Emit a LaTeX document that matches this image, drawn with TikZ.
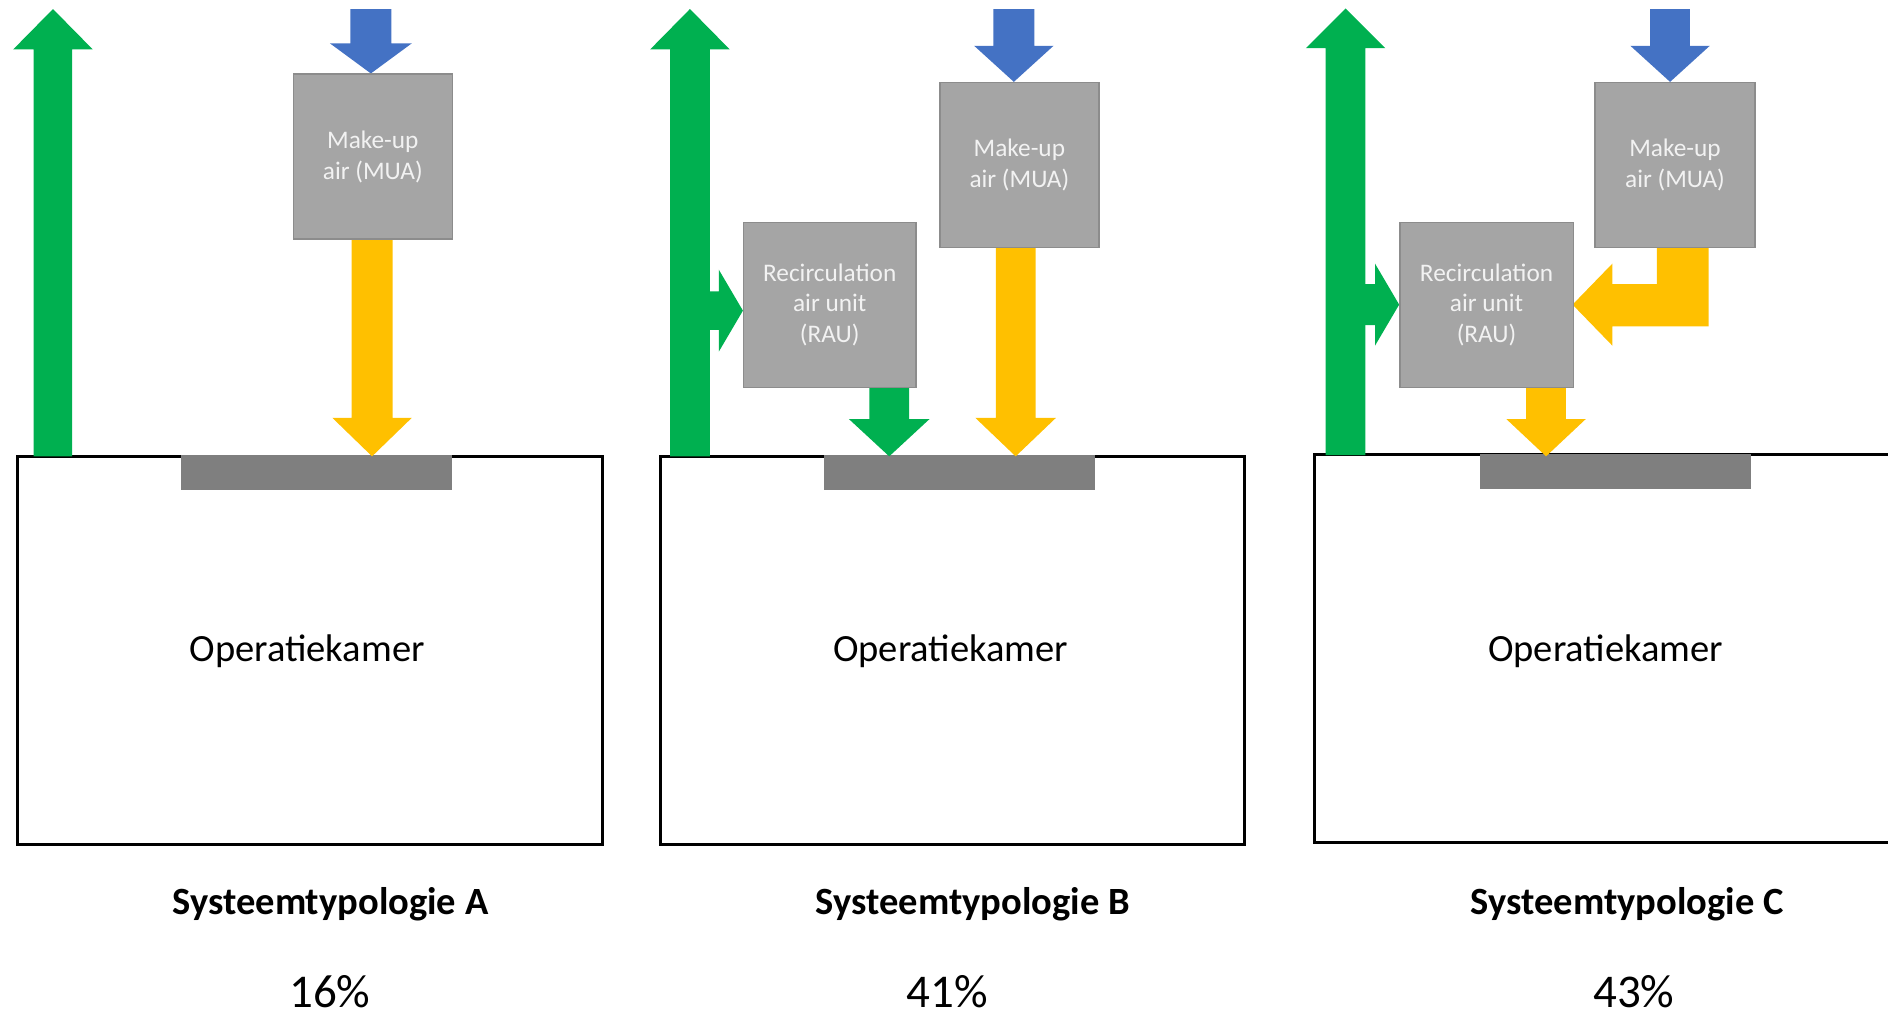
\documentclass[tikz,border=0pt]{standalone}
\usepackage{fontspec}
\setmainfont{Carlito}
\definecolor{grn}{HTML}{00B050}
\definecolor{blu}{HTML}{4472C4}
\definecolor{yel}{HTML}{FFC000}
\definecolor{boxgray}{HTML}{A5A5A5}
\definecolor{boxedge}{HTML}{8C8C8C}
\definecolor{bargray}{HTML}{7F7F7F}
\definecolor{boxtext}{HTML}{F2F2F2}
% vertical block arrow: colour, centre x, tail y, head-base y, tip y, half shaft, half head
\newcommand{\varrow}[7]{\fill[#1] ({#2-#6},#3) -- ({#2+#6},#3) -- ({#2+#6},#4) -- ({#2+#7},#4) -- (#2,#5) -- ({#2-#7},#4) -- ({#2-#6},#4) -- cycle;}
% horizontal block arrow: colour, centre y, tail x, head-base x, tip x, half shaft, half head
\newcommand{\harrow}[7]{\fill[#1] (#3,{#2-#6}) -- (#3,{#2+#6}) -- (#4,{#2+#6}) -- (#4,{#2+#7}) -- (#5,#2) -- (#4,{#2-#7}) -- (#4,{#2-#6}) -- cycle;}
\tikzset{
  unitbox/.style={draw=boxedge, line width=1.2pt, fill=boxgray, text=boxtext,
    font=\fontsize{21}{25.5}\selectfont, align=center, inner sep=0pt},
  roombox/.style={draw=black, line width=2.5pt, inner sep=0pt, anchor=north west},
  ceilbar/.style={fill=bargray, inner sep=0pt, anchor=north west},
  roomlabel/.style={font=\fontsize{32}{38}\selectfont},
  typelabel/.style={font=\bfseries\fontsize{32}{38}\selectfont},
  pctlabel/.style={font=\fontsize{39}{46}\selectfont, inner sep=0pt}
}
\begin{document}
\begin{tikzpicture}[x=1pt,y=-1pt]
\useasboundingbox (0,0) rectangle (1568,845.5);
% ---------- rooms ----------
\node[roombox, minimum width=486pt, minimum height=322pt] (roomA) at (13,378) {};
\node[roombox, minimum width=485pt, minimum height=322pt] (roomB) at (547,378) {};
\draw[black, line width=2.5pt] (1568,377.5) -- (1092,377.5) -- (1092,700) -- (1568,700);
\coordinate (roomC) at (1092,377.5);
% ---------- ceiling bars ----------
\node[ceilbar, minimum width=225pt, minimum height=29.5pt] (barA) at (150,377.5) {};
\node[ceilbar, minimum width=225pt, minimum height=29.5pt] (barB) at (684,377.5) {};
\node[ceilbar, minimum width=225pt, minimum height=29.5pt] (barC) at (1229,376.5) {};
% ---------- arrows A ----------
\varrow{grn}{44}{379}{41}{7.5}{16}{33}
\varrow{blu}{308}{7.5}{36}{61}{17}{34}
\varrow{yel}{309}{198}{347}{379}{17}{33}
% ---------- arrows B ----------
\varrow{grn}{573}{379}{41}{7.5}{16.5}{33}
\harrow{grn}{258}{585}{597}{617}{16}{34}
\varrow{grn}{738.5}{321}{348}{379}{16.5}{33.5}
\varrow{blu}{842}{7.5}{38}{68}{17}{33}
\varrow{yel}{843.5}{205}{347}{379}{16.5}{33.5}
% ---------- arrows C ----------
\varrow{grn}{1117.5}{378}{40}{7}{16.5}{33}
\harrow{grn}{253}{1130}{1142}{1162}{17}{34}
\varrow{blu}{1387}{7.5}{38}{68}{16.5}{33}
\fill[yel] (1419,205) -- (1419,271) -- (1339,271) -- (1339,287) -- (1306,253) -- (1339,219) -- (1339,236) -- (1376,236) -- (1376,205) -- cycle;
\varrow{yel}{1284}{320}{348}{379}{16.5}{33}
% ---------- units ----------
\node[unitbox, minimum width=132pt, minimum height=137pt, anchor=north west] (muaA) at (243,61) {Make-up\\air (MUA)};
\node[unitbox, minimum width=132pt, minimum height=137pt, anchor=north west] (muaB) at (780,68) {Make-up\\air (MUA)};
\node[unitbox, minimum width=143pt, minimum height=137pt, anchor=north west] (rauB) at (617,184) {Recirculation\\air unit\\(RAU)};
\node[unitbox, minimum width=133pt, minimum height=137pt, anchor=north west] (muaC) at (1324,68) {Make-up\\air (MUA)};
\node[unitbox, minimum width=144pt, minimum height=137pt, anchor=north west] (rauC) at (1162,184) {Recirculation\\air unit\\(RAU)};
% ---------- labels ----------
\node[roomlabel] (opA) at (255,541) {Operatiekamer};
\node[roomlabel] (opB) at (789.5,541) {Operatiekamer};
\node[roomlabel] (opC) at (1333.5,541) {Operatiekamer};
\node[typelabel] (typA) at (274.5,751) {Systeemtypologie A};
\node[typelabel] (typB) at (808,751) {Systeemtypologie B};
\node[typelabel] (typC) at (1351.5,751) {Systeemtypologie C};
\node[pctlabel, anchor=base] (pctA) at (274,837) {16\%};
\node[pctlabel, anchor=base] (pctB) at (786.5,837) {41\%};
\node[pctlabel, anchor=base] (pctC) at (1357,837) {43\%};
\end{tikzpicture}
\end{document}
